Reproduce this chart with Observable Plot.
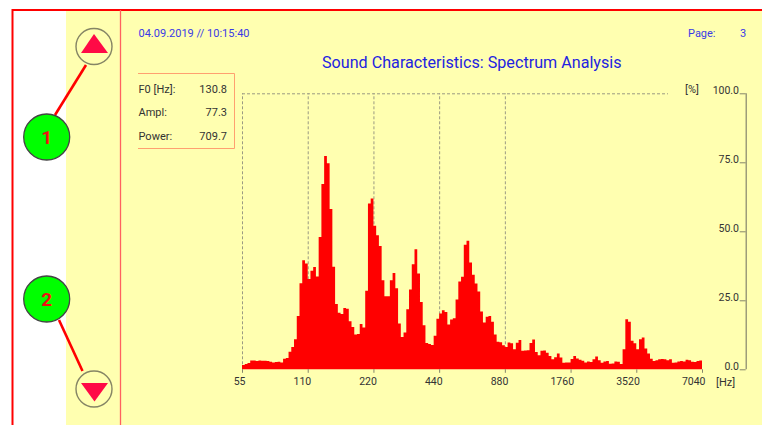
<!DOCTYPE html>
<html>
<head>
<meta charset="utf-8">
<script src="https://cdn.jsdelivr.net/npm/d3@7"></script>
<script src="https://cdn.jsdelivr.net/npm/@observablehq/plot@0.6"></script>
<style>
html,body{margin:0;padding:0;background:#fff;overflow:hidden}
#page{position:relative;width:762px;height:425px;overflow:hidden;font-family:Roboto,sans-serif}
#page>svg{position:absolute;left:0;top:0}
.t{position:absolute;white-space:nowrap;font-size:11px;line-height:13px}
.blue{color:#3a3ae6}.dark{color:#333}
</style>
</head>
<body>
<div id="page">
<svg id="decor" width="762" height="425">
  <rect x="66" y="10" width="696" height="415" fill="#ffffb0"/>
  <path d="M12.5 425V10H762" fill="none" stroke="#ff0000" stroke-width="2"/>
  <path d="M120.5 10V425" stroke="#ff6060" stroke-width="1.3"/>
  <path d="M138 73.5H234.5V148.5H138" fill="none" stroke="#ffa070" stroke-width="1"/>
  <line x1="55" y1="115" x2="86" y2="65" stroke="#ff0000" stroke-width="2.6"/>
  <line x1="59" y1="320" x2="82.5" y2="371" stroke="#ff0000" stroke-width="2.6"/>
  <circle cx="94" cy="46.5" r="18" fill="#ffffb0" stroke="#858565" stroke-width="1.4"/>
  <path d="M94 34L81 53H108Z" fill="#ff0a46"/>
  <circle cx="94" cy="389" r="18" fill="#ffffb0" stroke="#858565" stroke-width="1.4"/>
  <path d="M81 383H108L94.5 401.5Z" fill="#ff0a46"/>
  <circle cx="46.7" cy="137" r="23" fill="#00ff00" stroke="#444" stroke-width="1.3"/>
  <circle cx="46.7" cy="299" r="23" fill="#00ff00" stroke="#444" stroke-width="1.3"/>
  <text x="46.7" y="144" text-anchor="middle" fill="#f01010" font-size="19" font-weight="bold" font-family="Roboto">1</text>
  <text x="46.7" y="306" text-anchor="middle" fill="#f01010" font-size="19" font-weight="bold" font-family="Roboto">2</text>
</svg>
<div class="t blue" style="left:138.5px;top:27px">04.09.2019 // 10:15:40</div>
<div class="t blue" style="left:688px;top:27px">Page:</div>
<div class="t blue" style="left:740px;top:27px">3</div>
<div class="t blue" style="left:322px;top:53px;font-size:16.15px;line-height:19px;color:#2323e0">Sound Characteristics: Spectrum Analysis</div>
<div class="t dark" style="left:138.5px;top:83px">F0 [Hz]:</div>
<div class="t dark" style="left:138.5px;top:106px">Ampl:</div>
<div class="t dark" style="left:138.5px;top:130px">Power:</div>
<div class="t dark" style="right:535px;top:83px">130.8</div>
<div class="t dark" style="right:535px;top:106px">77.3</div>
<div class="t dark" style="right:535px;top:130px">709.7</div>
<div class="t dark" style="left:685px;top:83px">[%]</div>
<div class="t dark" style="left:716px;top:376px">[Hz]</div>
</div>
<script>
const tickFreqs = [55, 110, 220, 440, 880, 1760, 3520, 7040];
const dashedFreqs = [55, 110, 220, 440, 880];
const yTicks = [0, 25, 50, 75, 100];
const binsPerOctave = 24;
const spectrum = [
 1.6,1.9,2.3,3.2,3.2,3.0,3.2,3.1,3.1,3.0,2.7,2.5,2.6,2.7,2.5,3.8,4.1,6.4,8.1,10.9,19.3,31.2,39.5,38.3,
 32.7,35.7,37.1,33.6,47.9,67.1,77.3,74.7,58.1,37.2,23.7,20.5,20.0,22.2,21.9,17.4,15.3,12.6,12.8,16.4,15.1,28.5,60.1,61.9,
 52.0,48.6,44.7,32.3,26.5,26.5,32.3,34.9,29.4,16.6,11.7,13.3,21.8,28.9,38.1,43.5,34.7,24.4,16.0,9.5,9.2,8.8,12.2,18.3,
 20.2,21.4,20.8,16.2,18.0,18.5,25.3,31.8,33.5,45.1,46.6,38.7,34.3,31.1,28.2,20.9,17.0,19.0,19.3,17.2,12.6,10.0,9.8,8.7,
 8.1,9.7,9.4,7.3,9.6,10.6,6.7,6.8,6.9,9.5,10.8,6.3,5.1,6.7,6.8,6.0,4.8,3.6,4.4,5.7,4.3,2.4,2.5,2.5,
 3.7,4.8,3.9,3.5,3.1,2.5,2.8,2.6,3.6,4.6,3.3,2.4,2.8,3.0,2.0,2.1,2.8,2.7,1.9,7.3,18.1,17.2,10.3,9.4,
 7.3,10.9,11.5,7.5,5.7,3.8,3.0,3.3,3.6,3.7,3.6,3.3,3.6,2.4,2.5,2.8,3.0,2.8,3.5,3.3,2.7,2.6,3.0,3.2
];
const bins = spectrum.map((v, i) => ({f: tickFreqs[0] * 2 ** (i / binsPerOctave), v}));
bins.push({f: tickFreqs[tickFreqs.length - 1], v: spectrum[spectrum.length - 1]});
const dashEnd = 4920;
const grey = "#9a9a82", axisGrey = "#85856c", ink = "#333";
const chart = Plot.plot({
  width: 762, height: 425,
  marginLeft: 242, marginRight: 60, marginTop: 93.3, marginBottom: 55.7,
  style: {background: "transparent", fontFamily: "Roboto, sans-serif", color: ink},
  x: {type: "log", base: 2, domain: [55, 7040]},
  y: {domain: [0, 100]},
  marks: [
    Plot.ruleX(dashedFreqs, {y1: 0, y2: 100, stroke: grey, strokeWidth: 1, strokeDasharray: "3,2"}),
    Plot.ruleY([100], {x1: 55, x2: dashEnd, stroke: grey, strokeWidth: 1, strokeDasharray: "3,2"}),
    Plot.areaY(bins, {x: "f", y: "v", curve: "step-after", fill: "#ff0000"}),
    Plot.axisX({ticks: tickFreqs, tickFormat: null, text: null, tickSize: 3.5, label: null, stroke: axisGrey}),
    Plot.text(tickFreqs, {x: d => d, text: d => String(d), frameAnchor: "bottom", textAnchor: "end", lineAnchor: "top", dx: 3, dy: 7.5, fontSize: 10.5, fill: ink}),
    Plot.ruleX([55], {y1: 0, y2: 100, dx: 503.7, stroke: axisGrey, strokeWidth: 1.2}),
    Plot.axisY({anchor: "left", dx: 503.7, ticks: yTicks, text: null, tickFormat: null, tickSize: 6, label: null, stroke: axisGrey}),
    Plot.text(yTicks, {y: d => d, text: d => d.toFixed(1), frameAnchor: "left", textAnchor: "end", dx: 496.5, dy: -3, fontSize: 10.5, fill: ink})
  ]
});
document.getElementById("page").appendChild(chart);
</script>
</body>
</html>
